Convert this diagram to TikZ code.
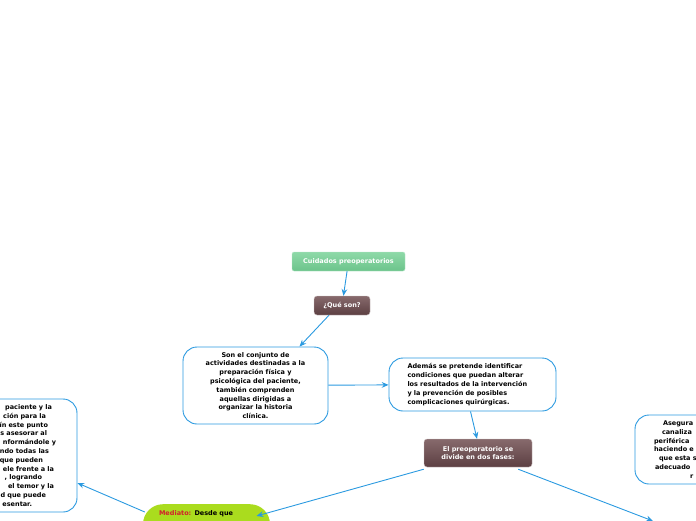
\documentclass[tikz,border=0pt]{standalone}
\usepackage{fontspec}
\setmainfont{DejaVu Sans}
\usepackage{tikz}
\usetikzlibrary{arrows.meta, positioning, calc}
\definecolor{azul}{HTML}{2B9AE0}
\definecolor{verdeT}{HTML}{8ED9A8}
\definecolor{verdeB}{HTML}{6CC48B}
\definecolor{cafeT}{HTML}{876A6C}
\definecolor{cafeB}{HTML}{5C3F42}
\definecolor{lima}{HTML}{AADC1E}
\definecolor{rojo}{HTML}{D2202C}
\newcommand{\esp}[1]{\rule{#1}{0pt}}
\tikzset{
  txt/.style   = {font=\fontsize{6.5}{8.8}\selectfont\bfseries},
  titulo/.style= {txt, draw=verdeT!60!white, rounded corners=2pt, text=white,
                  top color=verdeT, bottom color=verdeB, minimum height=19pt, inner sep=2pt},
  fase/.style  = {txt, draw=cafeT!45!white, rounded corners=3pt, text=white, align=center,
                  top color=cafeT, bottom color=cafeB, minimum height=19pt, inner sep=2pt},
  globo/.style = {txt, draw=azul, line width=0.9pt, rounded corners=14pt, fill=white,
                  align=center, inner sep=0pt},
  fl/.style    = {-{Stealth[length=2.4mm,width=2mm]}, azul, line width=0.9pt},
}
\begin{document}
\begin{tikzpicture}[x=1pt, y=-1pt]
  \useasboundingbox (0,0) rectangle (696,520);
  \clip (0,0) rectangle (696,520);
  \node[titulo, minimum width=113pt] (cuid) at (348.5,261.5) {Cuidados preoperatorios};
  \node[fase, minimum width=56pt] (que) at (342,305.5) {¿Qué son?};
  \node[globo, minimum width=145pt, minimum height=77pt, text width=136pt] (son) at (255.5,385.5)
    {Son el conjunto de\\actividades destinadas a la\\preparación física y\\psicológica del paciente,\\también comprenden\\aquellas dirigidas a\\organizar la historia\\clínica.};
  \node[globo, minimum width=167pt, minimum height=53pt, text width=130pt, align=left] (ademas) at (472.5,384.5)
    {Además se pretende identificar\\condiciones que puedan alterar\\los resultados de la intervención\\y la prevención de posibles\\complicaciones quirúrgicas.};
  \node[fase, minimum width=108pt, minimum height=28pt] (fases) at (478,453)
    {El preoperatorio se\\divide en dos fases:};
  \node[txt, fill=lima, rounded corners=20pt, anchor=north, minimum width=127pt,
        text width=95pt, align=left, inner ysep=6pt, text depth=30pt] (mediato) at (206.5,504)
    {\textcolor{rojo}{Mediato:} Desde que};
  % recortado por el borde izquierdo
  \node[globo, minimum width=147pt, minimum height=113pt, text width=105pt, align=right] (izq) at (3.5,455.5)
    {paciente y la\esp{4pt}\\ción para la\esp{10pt}\\ín este punto\esp{8pt}\\s asesorar al\esp{9pt}\\nformándole y\\ndo todas las\esp{7pt}\\que pueden\esp{13pt}\\ele frente a la\esp{2pt}\\, logrando\esp{14pt}\\el temor y la\esp{2pt}\\d que puede\esp{10pt}\\esentar.\esp{24pt}};
  % recortado por el borde derecho
  \node[globo, minimum width=145pt, minimum height=69pt, text width=107pt, align=left] (der) at (707.5,449.5)
    {\esp{9pt}Asegura\\\esp{8pt}canaliza\\periférica\\haciendo e\\\esp{5pt}que esta s\\\esp{1pt}adecuado\\\esp{36pt}r};
  \coordinate (sig) at (653,521);

  \draw[fl] (cuid) -- (que);
  \draw[fl] ([xshift=-13pt]que.south) -- ([xshift=44pt]son.north);
  \draw[fl] (son) -- (ademas);
  \draw[fl] ([xshift=-2pt]ademas.south) -- ([xshift=-1pt]fases.north);
  \draw[fl] ([yshift=-2pt]fases.south west) -- ([xshift=50pt,yshift=-12pt]mediato.north);
  \draw[fl] ([xshift=2pt,yshift=-8pt]mediato.north west) -- ([yshift=-27.5pt]izq.east);
  \draw[fl] ([xshift=-14pt,yshift=-2pt]fases.south east) -- (sig);
\end{tikzpicture}
\end{document}
